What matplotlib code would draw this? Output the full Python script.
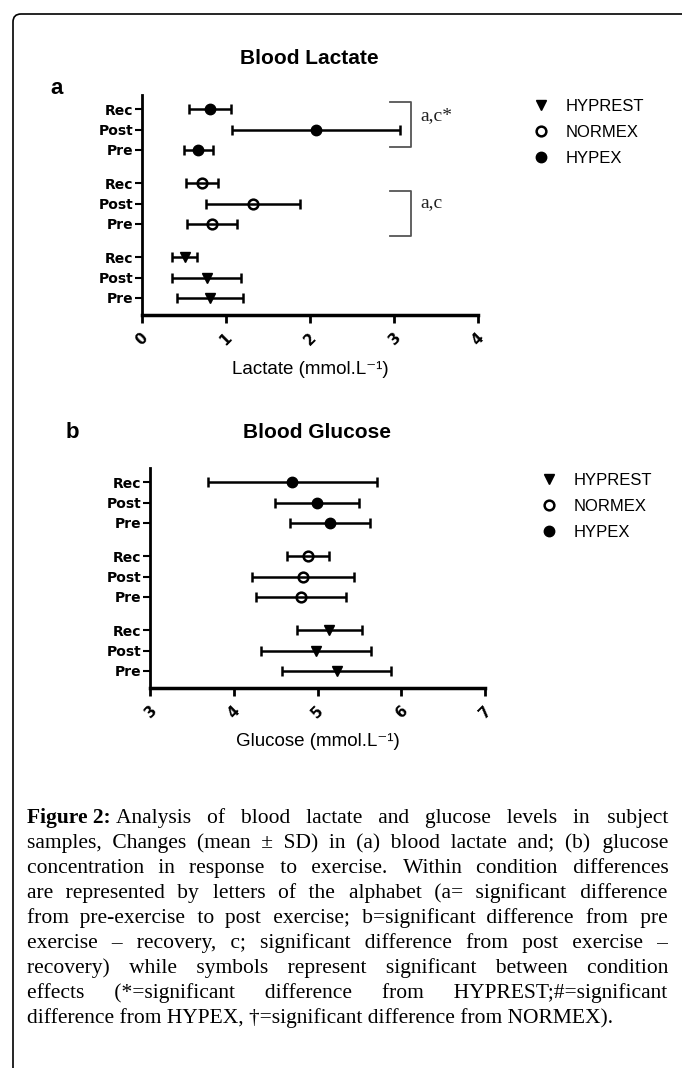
import matplotlib
matplotlib.use("Agg")
import matplotlib.pyplot as plt
from matplotlib.lines import Line2D
from matplotlib.patches import FancyBboxPatch
from matplotlib.transforms import IdentityTransform

# ---- data (mean, SD); order Pre, Post, Rec ----
phases = ["Pre", "Post", "Rec"]
conditions = ["HYPREST", "NORMEX", "HYPEX"]

lac_hyprest_mean = [0.81, 0.77, 0.51]
lac_hyprest_sd = [0.39, 0.41, 0.15]
lac_normex_mean = [0.83, 1.32, 0.71]
lac_normex_sd = [0.30, 0.56, 0.19]
lac_hypex_mean = [0.67, 2.07, 0.81]
lac_hypex_sd = [0.175, 1.00, 0.25]

glu_hyprest_mean = [5.23, 4.98, 5.14]
glu_hyprest_sd = [0.65, 0.66, 0.39]
glu_normex_mean = [4.80, 4.83, 4.89]
glu_normex_sd = [0.54, 0.61, 0.25]
glu_hypex_mean = [5.15, 4.99, 4.70]
glu_hypex_sd = [0.48, 0.50, 1.01]

caption_head = "Figure 2:"
caption_lines = [
    "Analysis of blood lactate and glucose levels in subject",
    "samples, Changes (mean \u00b1 SD) in (a) blood lactate and; (b) glucose",
    "concentration in response to exercise. Within condition differences",
    "are represented by letters of the alphabet (a= significant difference",
    "from pre-exercise to post exercise; b=significant difference from pre",
    "exercise \u2013 recovery, c; significant difference from post exercise \u2013",
    "recovery) while symbols represent significant between condition",
    "effects (*=significant difference from HYPREST;#=significant",
    "difference from HYPEX, \u2020=significant difference from NORMEX).",
]

W, H = 682, 1068
fig = plt.figure(figsize=(W / 100, H / 100), dpi=100)
fig.patch.set_facecolor('white')


def fx(x):
    return x / W


def fy(y):
    return 1 - y / H


# frame with rounded top-left corner, running off right and bottom edges
fig.add_artist(FancyBboxPatch((13, -40), 740, H - 14 + 40,
                              boxstyle="round,pad=0,rounding_size=8",
                              transform=IdentityTransform(), fill=False,
                              lw=1.2, ec='black'))

# y positions of the nine rows (groups of three)
group_offsets = [0, 3.65, 7.3]
markers = {"HYPREST": dict(marker='v', mfc='black', mec='black', ms=7),
           "NORMEX": dict(marker='o', mfc='none', mec='black', ms=7, mew=1.8),
           "HYPEX": dict(marker='o', mfc='black', mec='black', ms=7.5)}
sans = ['Liberation Sans', 'DejaVu Sans']


def draw_panel(rect, means, sds, xlim, xlabel, title, letter, title_xy,
               letter_xy, leg_xy):
    l, t, r, b = rect
    ax = fig.add_axes([fx(l), fy(b), fx(r - l), (b - t) / H])
    ypos, ylabels = [], []
    for k, cond in enumerate(conditions):
        ys = [group_offsets[k] + i for i in range(3)]
        ax.errorbar(means[k], ys, xerr=sds[k], fmt='none', ecolor='black',
                    elinewidth=1.8, capsize=3.5, capthick=1.8, zorder=2)
        ax.plot(means[k], ys, ls='none', zorder=3, **markers[cond])
        ypos += ys
        ylabels += phases
    ax.set_yticks(ypos)
    ax.set_yticklabels(ylabels, fontfamily='DejaVu Sans', fontweight='bold',
                       fontsize=10)
    ax.set_ylim(-0.84, 10.0)
    ax.set_xlim(*xlim)
    ax.set_xticks(range(xlim[0], xlim[1] + 1))
    ax.set_xticklabels([str(v) for v in range(xlim[0], xlim[1] + 1)],
                       rotation=45, fontweight='bold', fontsize=10.5,
                       fontfamily='DejaVu Sans')
    for s in ['top', 'right']:
        ax.spines[s].set_visible(False)
    ax.spines['left'].set_linewidth(2)
    ax.spines['bottom'].set_linewidth(2.5)
    ax.tick_params(axis='y', length=5, width=1.5, pad=1)
    ax.tick_params(axis='x', length=6, width=2, pad=5)
    ax.set_facecolor('none')
    ax.set_xlabel(xlabel, fontfamily=sans, fontsize=13.5)
    ax.xaxis.set_label_coords(0.5, -54 / (b - t))
    ax.xaxis.label.set_va('center')
    fig.text(fx(title_xy[0]), fy(title_xy[1]), title, ha='center',
             va='center', fontfamily='Liberation Sans', fontweight='bold',
             fontsize=15)
    fig.text(fx(letter_xy[0]), fy(letter_xy[1]), letter, ha='center',
             va='center', fontfamily='Liberation Sans', fontweight='bold',
             fontsize=16)
    handles = [Line2D([], [], ls='none', **markers[c]) for c in conditions]
    ax.legend(handles, conditions, loc='upper left',
              bbox_to_anchor=(fx(leg_xy[0]), fy(leg_xy[1])),
              bbox_transform=fig.transFigure, frameon=False,
              borderpad=0, borderaxespad=0, handlelength=1.0,
              handletextpad=0.95, labelspacing=0.65,
              prop=dict(family='Liberation Sans', size=12))
    return ax


ax_a = draw_panel((142, 95, 478, 315),
                  [lac_hyprest_mean, lac_normex_mean, lac_hypex_mean],
                  [lac_hyprest_sd, lac_normex_sd, lac_hypex_sd],
                  (0, 4), "Lactate (mmol.L\u207b\u00b9)", "Blood Lactate", "a",
                  (309, 58), (57, 89), (533, 99))

ax_b = draw_panel((150, 468, 485, 688),
                  [glu_hyprest_mean, glu_normex_mean, glu_hypex_mean],
                  [glu_hyprest_sd, glu_normex_sd, glu_hypex_sd],
                  (3, 7), "Glucose (mmol.L\u207b\u00b9)", "Blood Glucose", "b",
                  (317, 433), (72, 433), (541, 473))

# significance brackets on panel a
for (y0, y1, ytxt, txt) in [(7.44, 9.66, 9.0, "a,c*"), (3.05, 5.27, 4.68, "a,c")]:
    ax_a.plot([2.95, 3.2, 3.2, 2.95], [y1, y1, y0, y0], color='#555555',
              lw=1.3, clip_on=False, zorder=1)
    ax_a.text(3.31, ytxt, txt, fontfamily='Liberation Serif', fontsize=14,
              va='center', ha='left', color='#222222')

# justified caption: one text per line, extra room filled with hair spaces
renderer = fig.canvas.get_renderer()
left, right = 27, 668
HS = "\u200a"
cap_font = dict(fontfamily=['Liberation Serif', 'DejaVu Serif', 'DejaVu Sans'],
                fontsize=15.5)


def text_width(s, **kw):
    t = fig.text(0, 0, s, **kw)
    w = t.get_window_extent(renderer).width
    t.remove()
    return w


hs_w = (text_width("a" + HS * 20 + "a", **cap_font)
        - text_width("aa", **cap_font)) / 20

head = fig.text(fx(left), fy(823), caption_head + " ", va='baseline',
                ha='left', fontweight='bold', **cap_font)
head_w = head.get_window_extent(renderer).width

for li, line in enumerate(caption_lines):
    base = 823 + 25 * li
    x0 = left + head_w if li == 0 else left
    words = line.split(" ")
    if li < len(caption_lines) - 1:
        extra = (right - x0) - text_width(line, **cap_font)
        n_hs = max(0, int(round(extra / hs_w)))
        gaps = len(words) - 1
        pieces = [words[0]]
        for g in range(gaps):
            k = n_hs * (g + 1) // gaps - n_hs * g // gaps
            pieces.append(" " + HS * k + words[g + 1])
        s = "".join(pieces)
    else:
        s = line
    fig.text(fx(x0), fy(base), s, va='baseline', ha='left', **cap_font)

fig.savefig("out.png", dpi=100, facecolor='white')
